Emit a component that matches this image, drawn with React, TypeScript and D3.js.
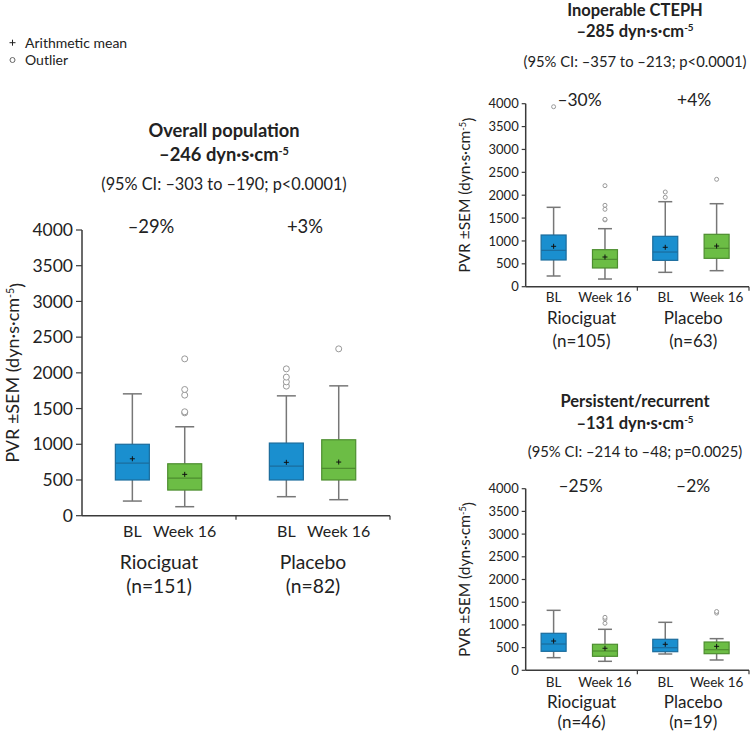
import React from "react";
import * as d3 from "d3";

// ---------- data ----------
const groups = ["Riociguat", "Placebo"];
const timepoints = ["BL", "Week 16"];
const yTicks = [0, 500, 1000, 1500, 2000, 2500, 3000, 3500, 4000];

type Box = { low: number; q1: number; median: number; q3: number; high: number; mean: number; outliers: number[] };

const overallTitle = ["Overall population", "–246"];
const overallCI = "(95% CI: –303 to –190; p<0.0001)";
const overallN = ["(n=151)", "(n=82)"];
const overallChange = ["–29%", "+3%"];
const overallBoxes: Box[] = [
  { low: 205, q1: 500, median: 737, q3: 1000, high: 1706, mean: 797, outliers: [] },
  { low: 126, q1: 359, median: 527, q3: 727, high: 1245, mean: 579, outliers: [1440, 1455, 1688, 1767, 2196] },
  { low: 266, q1: 500, median: 695, q3: 1017, high: 1678, mean: 747, outliers: [1814, 1874, 1940, 2056] },
  { low: 224, q1: 500, median: 663, q3: 1063, high: 1818, mean: 751, outliers: [2336] },
];

const inoperableTitle = ["Inoperable CTEPH", "–285"];
const inoperableCI = "(95% CI: –357 to –213; p<0.0001)";
const inoperableN = ["(n=105)", "(n=63)"];
const inoperableChange = ["–30%", "+4%"];
const inoperableBoxes: Box[] = [
  { low: 234, q1: 584, median: 795, q3: 1130, high: 1735, mean: 883, outliers: [3934] },
  { low: 168, q1: 409, median: 598, q3: 809, high: 1268, mean: 649, outliers: [1460, 1473, 1692, 1779, 2208] },
  { low: 314, q1: 576, median: 758, q3: 1101, high: 1858, mean: 861, outliers: [1954, 2070] },
  { low: 350, q1: 620, median: 839, q3: 1145, high: 1814, mean: 889, outliers: [2347] },
];

const persistentTitle = ["Persistent/recurrent", "–131"];
const persistentCI = "(95% CI: –214 to –48; p=0.0025)";
const persistentN = ["(n=46)", "(n=19)"];
const persistentChange = ["–25%", "–2%"];
const persistentBoxes: Box[] = [
  { low: 278, q1: 418, median: 579, q3: 815, high: 1321, mean: 645, outliers: [] },
  { low: 198, q1: 308, median: 425, q3: 573, high: 903, mean: 485, outliers: [1035, 1130, 1167] },
  { low: 359, q1: 410, median: 498, q3: 683, high: 1057, mean: 573, outliers: [] },
  { low: 227, q1: 366, median: 454, q3: 623, high: 697, mean: 528, outliers: [1260, 1295] },
];

const legendItems = ["Arithmetic mean", "Outlier"];

// ---------- style ----------
const FONT = "Lato, 'Open Sans', sans-serif";
const fills = ["#1a8fcf", "#6cbd45"];
const strokes = ["#1b6c9c", "#4d8d2f"];
const AXIS = "#3a3a3a";
const WHISK = "#777";
const TXT = "#222";

type Layout = {
  x0: number; x1: number; yBottom: number; yTop: number;
  innerA: number; innerB: number; boxW: number; capW: number; r: number;
  tickLen: number; tickFont: number; catFont: number; grpFont: number;
  catY: number; grpY: number; nY: number; yLabelX: number; yLabelFont: number;
  titleX: number; titleY: number; subY: number; ciY: number; titleFont: number; ciFont: number;
  changeY: number; changeFont: number; changeDx: number[];
};

function Panel({ boxes, title, ci, ns, changes, L }: { boxes: Box[]; title: string[]; ci: string; ns: string[]; changes: string[]; L: Layout }) {
  const y = d3.scaleLinear().domain([0, 4000]).range([L.yBottom, L.yTop]);
  const gx = d3.scaleBand<string>().domain(groups).range([L.x0, L.x1]).padding(0);
  const bw = gx.bandwidth();
  const ix = d3.scalePoint<string>().domain(timepoints).range([L.innerA * bw, L.innerB * bw]);
  const yMid = (L.yBottom + L.yTop) / 2;
  return (
    <g>
      {/* titles */}
      <text x={L.titleX} y={L.titleY} dy="0.35em" textAnchor="middle" fontWeight="bold" fontSize={L.titleFont} fill={TXT}>{title[0]}</text>
      <text x={L.titleX} y={L.subY} dy="0.35em" textAnchor="middle" fontWeight="bold" fontSize={L.titleFont} fill={TXT}>
        {title[1]} dyn·s·cm<tspan dy="-0.55em" fontSize={L.titleFont * 0.6}>-5</tspan>
      </text>
      <text x={L.titleX} y={L.ciY} dy="0.35em" textAnchor="middle" fontSize={L.ciFont} fill={TXT}>{ci}</text>
      {/* y axis label */}
      <text transform={`translate(${L.yLabelX},${yMid}) rotate(-90)`} dy="0.35em" textAnchor="middle" fontSize={L.yLabelFont} fill={TXT}>
        PVR ±SEM (dyn·s·cm<tspan dy="-0.5em" fontSize={L.yLabelFont * 0.6}>-5</tspan><tspan dy="0.5em">)</tspan>
      </text>
      {/* y axis */}
      <line x1={L.x0} x2={L.x0} y1={y(0)} y2={y(4000)} stroke={AXIS} strokeWidth={1.5} />
      {yTicks.map((t) => (
        <g key={t}>
          <line x1={L.x0 - L.tickLen} x2={L.x0} y1={y(t)} y2={y(t)} stroke={AXIS} strokeWidth={1.2} />
          <text x={L.x0 - L.tickLen - 3} y={y(t)} dy="0.35em" textAnchor="end" fontSize={L.tickFont} fill={TXT}>{t}</text>
        </g>
      ))}
      {/* x axis */}
      <line x1={L.x0} x2={L.x1} y1={y(0)} y2={y(0)} stroke={AXIS} strokeWidth={1.5} />
      {groups.map((g) => (
        <line key={g} x1={(gx(g) as number) + bw} x2={(gx(g) as number) + bw} y1={y(0)} y2={y(0) + 4} stroke={AXIS} strokeWidth={1.2} />
      ))}
      {groups.map((g, gi) => {
        const gStart = gx(g) as number;
        const gCenter = gStart + bw / 2;
        return (
          <g key={g}>
            <text x={gCenter + L.changeDx[gi]} y={L.changeY} dy="0.35em" textAnchor="middle" fontSize={L.changeFont} fill={TXT}>{changes[gi]}</text>
            <text x={gCenter} y={L.grpY} dy="0.35em" textAnchor="middle" fontSize={L.grpFont} fill={TXT}>{g}</text>
            <text x={gCenter} y={L.nY} dy="0.35em" textAnchor="middle" fontSize={L.grpFont} fill={TXT}>{ns[gi]}</text>
            {timepoints.map((tp, ti) => {
              const b = boxes[gi * 2 + ti];
              const cx = gStart + (ix(tp) as number);
              return (
                <g key={tp}>
                  <text x={cx} y={L.catY} dy="0.35em" textAnchor="middle" fontSize={L.catFont} fill={TXT}>{tp}</text>
                  <line x1={cx} x2={cx} y1={y(b.high)} y2={y(b.q3)} stroke={WHISK} strokeWidth={1.5} />
                  <line x1={cx} x2={cx} y1={y(b.q1)} y2={y(b.low)} stroke={WHISK} strokeWidth={1.5} />
                  <line x1={cx - L.capW / 2} x2={cx + L.capW / 2} y1={y(b.high)} y2={y(b.high)} stroke={WHISK} strokeWidth={1.5} />
                  <line x1={cx - L.capW / 2} x2={cx + L.capW / 2} y1={y(b.low)} y2={y(b.low)} stroke={WHISK} strokeWidth={1.5} />
                  <rect x={cx - L.boxW / 2} y={y(b.q3)} width={L.boxW} height={y(b.q1) - y(b.q3)} fill={fills[ti]} stroke={strokes[ti]} strokeWidth={1.2} />
                  <line x1={cx - L.boxW / 2} x2={cx + L.boxW / 2} y1={y(b.median)} y2={y(b.median)} stroke={strokes[ti]} strokeWidth={1.2} />
                  <line x1={cx - 2.5} x2={cx + 2.5} y1={y(b.mean)} y2={y(b.mean)} stroke="#111" strokeWidth={1} />
                  <line x1={cx} x2={cx} y1={y(b.mean) - 2.5} y2={y(b.mean) + 2.5} stroke="#111" strokeWidth={1} />
                  {b.outliers.map((o, oi) => (
                    <circle key={oi} cx={cx} cy={y(o)} r={L.r} fill="#fff" stroke="#999" strokeWidth={1} />
                  ))}
                </g>
              );
            })}
          </g>
        );
      })}
    </g>
  );
}

const leftLayout: Layout = {
  x0: 82, x1: 390, yBottom: 515.7, yTop: 230, innerA: 0.327, innerB: 0.667, boxW: 34, capW: 19, r: 3,
  tickLen: 6, tickFont: 17.5, catFont: 16, grpFont: 19.3, catY: 531.7, grpY: 562.7, nY: 586, yLabelX: 13, yLabelFont: 18,
  titleX: 224, titleY: 130.7, subY: 155, ciY: 184, titleFont: 18.3, ciFont: 16.3, changeY: 226.7, changeFont: 18.4, changeDx: [-8, -8],
};
const topLayout: Layout = {
  x0: 525.7, x1: 749, yBottom: 286.7, yTop: 103.7, innerA: 0.25, innerB: 0.71, boxW: 25, capW: 14, r: 2,
  tickLen: 4, tickFont: 13, catFont: 13.5, grpFont: 17, catY: 297, grpY: 318, nY: 340.7, yLabelX: 465, yLabelFont: 15.5,
  titleX: 635, titleY: 10, subY: 31, ciY: 61.7, titleFont: 16.5, ciFont: 14.8, changeY: 100, changeFont: 17.4, changeDx: [-2, 1],
};
const bottomLayout: Layout = {
  ...topLayout, yBottom: 670.3, yTop: 488.7, catY: 682.3, grpY: 701.7, nY: 721.7,
  titleY: 401.7, subY: 423, ciY: 451.7, changeY: 485.7, changeDx: [-1, 0],
};

export default function App() {
  return (
    <svg width={750} height={733} style={{ position: "absolute", left: 0, top: 0, background: "#fff" }} fontFamily={FONT}>
      <rect width={750} height={733} fill="#fff" />
      {/* legend */}
      <g>
        <line x1={9.5} x2={15.5} y1={42.7} y2={42.7} stroke="#222" strokeWidth={1} />
        <line x1={12.5} x2={12.5} y1={39.7} y2={45.7} stroke="#222" strokeWidth={1} />
        <text x={25} y={42.7} dy="0.35em" fontSize={14} fill={TXT}>{legendItems[0]}</text>
        <circle cx={12.5} cy={60} r={2.5} fill="#fff" stroke="#666" strokeWidth={1} />
        <text x={25} y={60} dy="0.35em" fontSize={14} fill={TXT}>{legendItems[1]}</text>
      </g>
      <Panel boxes={overallBoxes} title={overallTitle} ci={overallCI} ns={overallN} changes={overallChange} L={leftLayout} />
      <Panel boxes={inoperableBoxes} title={inoperableTitle} ci={inoperableCI} ns={inoperableN} changes={inoperableChange} L={topLayout} />
      <Panel boxes={persistentBoxes} title={persistentTitle} ci={persistentCI} ns={persistentN} changes={persistentChange} L={bottomLayout} />
    </svg>
  );
}
